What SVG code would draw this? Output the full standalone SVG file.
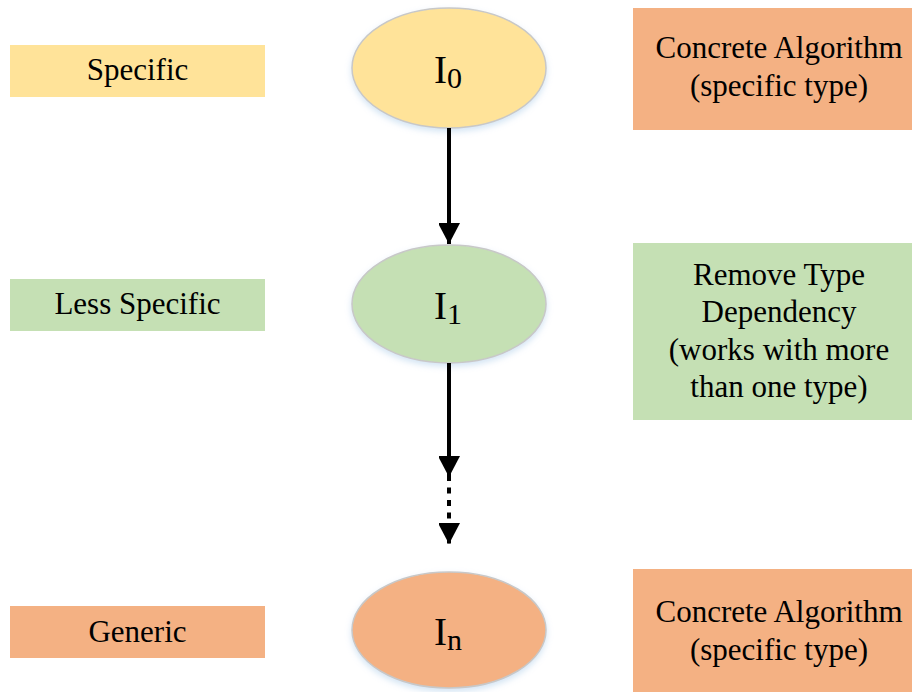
<svg xmlns="http://www.w3.org/2000/svg" width="912" height="692" viewBox="0 0 912 692">
  <style>
    text { font-family: 'Liberation Serif', 'Tinos', 'Times New Roman', Times, 'DejaVu Serif', 'Noto Serif', serif; }
    .t { font-size: 31px; fill: #000; text-anchor: middle; }
    .big { font-size: 39px; fill: #000; text-anchor: middle; }
    .sub { font-size: 30px; }
    .yellow { fill: #FFE399; }
    .green { fill: #C5E0B4; }
    .orange { fill: #F4B183; }
    .ell { stroke: #C8C8C8; stroke-width: 1.5; filter: url(#sh); }
    .conn { stroke: #000; stroke-width: 4; fill: none; }
    .dots { stroke: #000; stroke-width: 4; fill: none; stroke-dasharray: 6 6.5; }
  </style>
  <defs>
    <filter id="sh" x="-20%" y="-20%" width="140%" height="150%">
      <feDropShadow dx="0" dy="3" stdDeviation="3" flood-color="#9DC3E6" flood-opacity="0.45"/>
    </filter>
    <marker id="ah" markerUnits="userSpaceOnUse" markerWidth="22" markerHeight="21" refX="21" refY="11" orient="auto">
      <path d="M0,0 L21,11 L0,22 Z" fill="#000"/>
    </marker>
  </defs>
  <rect width="912" height="692" fill="#fff"/>

  <g id="label-specific">
    <rect class="yellow" x="10" y="45" width="255" height="52"/>
    <text class="t" x="137.5" y="80">Specific</text>
  </g>
  <g id="label-less-specific">
    <rect class="green" x="10" y="279" width="255" height="52"/>
    <text class="t" x="137.5" y="314">Less Specific</text>
  </g>
  <g id="label-generic">
    <rect class="orange" x="10" y="606" width="255" height="52"/>
    <text class="t" x="137.5" y="642">Generic</text>
  </g>

  <g id="node-i0">
    <ellipse class="yellow ell" cx="449" cy="68" rx="97" ry="60"/>
    <text class="big" x="448" y="83">I<tspan class="sub" dy="5">0</tspan></text>
  </g>
  <g id="node-i1">
    <ellipse class="green ell" cx="449" cy="304" rx="97" ry="59"/>
    <text class="big" x="448" y="319">I<tspan class="sub" dy="5">1</tspan></text>
  </g>
  <g id="node-in">
    <ellipse class="orange ell" cx="449" cy="630" rx="97" ry="58"/>
    <text class="big" x="448" y="645">I<tspan class="sub" dy="5">n</tspan></text>
  </g>

  <g id="note-concrete-top">
    <rect class="orange" x="633" y="8" width="279" height="122"/>
    <text class="t" x="779" y="58">Concrete Algorithm</text>
    <text class="t" x="779" y="96">(specific type)</text>
  </g>
  <g id="note-remove-type">
    <rect class="green" x="633" y="243" width="279" height="177"/>
    <text class="t" x="779" y="285">Remove Type</text>
    <text class="t" x="779" y="322">Dependency</text>
    <text class="t" x="779" y="360">(works with more</text>
    <text class="t" x="779" y="397">than one type)</text>
  </g>
  <g id="note-concrete-bottom">
    <rect class="orange" x="633" y="569" width="279" height="123"/>
    <text class="t" x="779" y="622">Concrete Algorithm</text>
    <text class="t" x="779" y="660">(specific type)</text>
  </g>

  <g id="connectors">
    <line class="conn" x1="449" y1="128" x2="449" y2="244" marker-end="url(#ah)"/>
    <line class="conn" x1="449" y1="363" x2="449" y2="477" marker-end="url(#ah)"/>
    <line class="dots" x1="449" y1="475" x2="449" y2="544" marker-end="url(#ah)"/>
  </g>
</svg>
